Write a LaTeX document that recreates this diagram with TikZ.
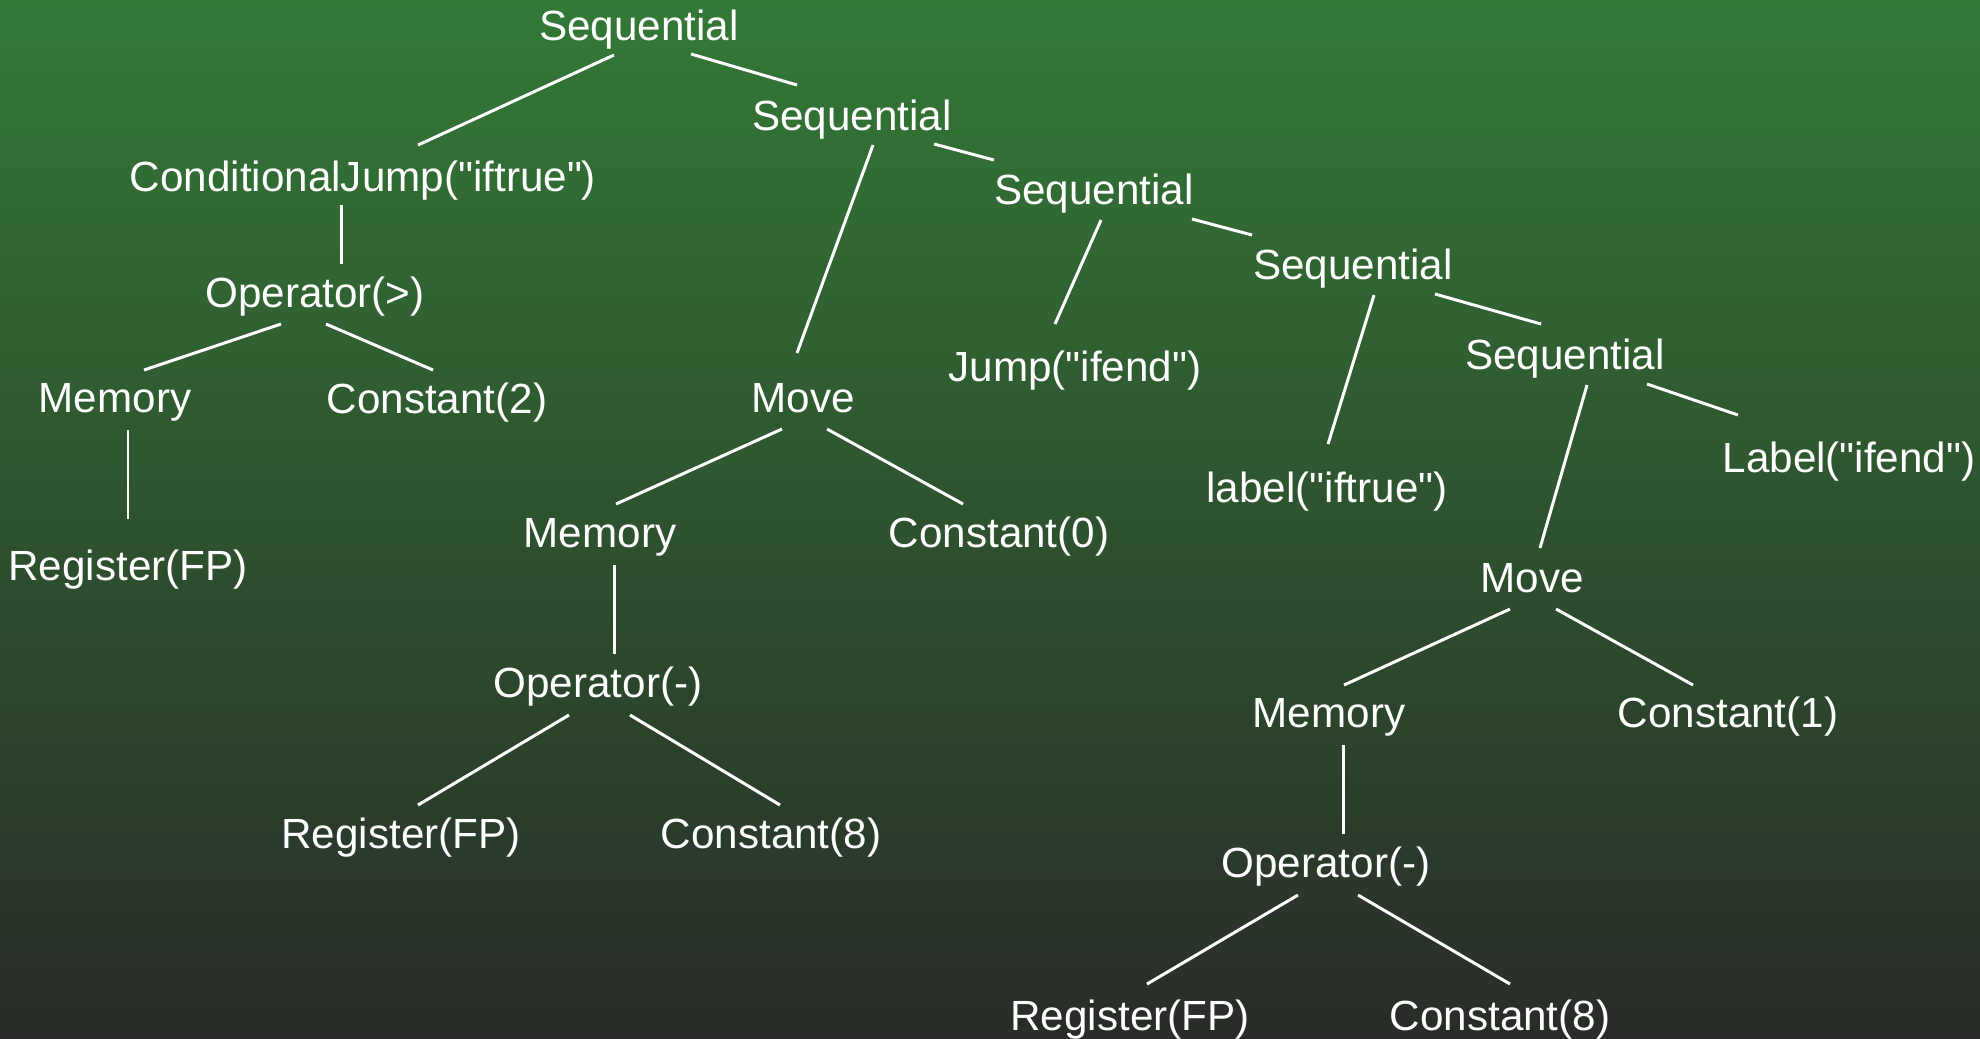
\documentclass[tikz,border=0pt]{standalone}
\usepackage{fontspec}
\setmainfont{Liberation Sans}
\usetikzlibrary{calc}
\definecolor{bgtop}{RGB}{51,121,54}
\definecolor{bgbot}{RGB}{41,44,40}
\newcommand{\qmark}{\textquotedbl}
\tikzset{
  tnode/.style={anchor=base, inner sep=0pt, text=white, font=\fontsize{12}{14}\selectfont},
  edge/.style={draw=white, line width=0.85pt}
}
\begin{document}
\begin{tikzpicture}[x=0.01cm, y=-0.01cm]
\shade[top color=bgtop, bottom color=bgbot] (0,0) rectangle (1980,1038);
\useasboundingbox (0,0) rectangle (1980,1038);
% nodes
\node[tnode] (s1)   at (639,40)   {Sequential};
\node[tnode] (s2)   at (852,130)  {Sequential};
\node[tnode] (cj)   at (363,191)  {ConditionalJump(\qmark iftrue\qmark)};
\node[tnode] (s3)   at (1094,204) {Sequential};
\node[tnode] (s4)   at (1353,279) {Sequential};
\node[tnode] (op1)  at (315,307)  {Operator(>)};
\node[tnode] (s5)   at (1565,369) {Sequential};
\node[tnode] (jmp)  at (1075,381) {Jump(\qmark ifend\qmark)};
\node[tnode] (mem1) at (115,412)  {Memory};
\node[tnode] (c2)   at (437,413)  {Constant(2)};
\node[tnode] (mv1)  at (803,412)  {Move};
\node[tnode] (lab)  at (1327,502) {label(\qmark iftrue\qmark)};
\node[tnode] (lif)  at (1849,472) {Label(\qmark ifend\qmark)};
\node[tnode] (reg1) at (128,580)  {Register(FP)};
\node[tnode] (mem2) at (600,547)  {Memory};
\node[tnode] (c0)   at (999,547)  {Constant(0)};
\node[tnode] (mv2)  at (1532,592) {Move};
\node[tnode] (op2)  at (598,697)  {Operator(-)};
\node[tnode] (mem3) at (1329,727) {Memory};
\node[tnode] (c1)   at (1728,727) {Constant(1)};
\node[tnode] (reg2) at (401,848)  {Register(FP)};
\node[tnode] (c8a)  at (771,848)  {Constant(8)};
\node[tnode] (op3)  at (1326,877) {Operator(-)};
\node[tnode] (reg3) at (1130,1030) {Register(FP)};
\node[tnode] (c8b)  at (1500,1030) {Constant(8)};
% edges
\draw[edge] ($(s1.base)+(-25,15)$) -- ($(cj.base)+(55,-46)$);
\draw[edge] ($(s1.base)+(52,14)$) -- ($(s2.base)+(-55,-45)$);
\draw[edge] ($(cj.base)+(-22,14)$) -- ($(op1.base)+(26,-43)$);
\draw[edge] ($(s2.base)+(21,15)$) -- ($(mv1.base)+(-6,-59)$);
\draw[edge] ($(s2.base)+(82,14)$) -- ($(s3.base)+(-100,-44)$);
\draw[edge] ($(op1.base)+(-34,17)$) -- ($(mem1.base)+(29,-42)$);
\draw[edge] ($(op1.base)+(11,17)$) -- ($(c2.base)+(-4,-43)$);
\draw[edge] ($(s3.base)+(7,16)$) -- ($(jmp.base)+(-20,-57)$);
\draw[edge] ($(s3.base)+(98,15)$) -- ($(s4.base)+(-101,-44)$);
\draw[edge] ($(mem1.base)+(13,18)$) -- ($(reg1.base)+(0,-61)$);
\draw[edge] ($(mv1.base)+(-21,17)$) -- ($(mem2.base)+(16,-43)$);
\draw[edge] ($(mv1.base)+(24,17)$) -- ($(c0.base)+(-36,-43)$);
\draw[edge] ($(s4.base)+(21,16)$) -- ($(lab.base)+(1,-58)$);
\draw[edge] ($(s4.base)+(82,15)$) -- ($(s5.base)+(-24,-45)$);
\draw[edge] ($(s5.base)+(22,16)$) -- ($(mv2.base)+(8,-44)$);
\draw[edge] ($(s5.base)+(82,15)$) -- ($(lif.base)+(-111,-57)$);
\draw[edge] ($(mem2.base)+(14,18)$) -- ($(op2.base)+(16,-43)$);
\draw[edge] ($(mv2.base)+(-22,17)$) -- ($(mem3.base)+(15,-42)$);
\draw[edge] ($(mv2.base)+(24,17)$) -- ($(c1.base)+(-35,-42)$);
\draw[edge] ($(op2.base)+(-29,18)$) -- ($(reg2.base)+(17,-43)$);
\draw[edge] ($(op2.base)+(32,18)$) -- ($(c8a.base)+(9,-43)$);
\draw[edge] ($(mem3.base)+(14,18)$) -- ($(op3.base)+(17,-43)$);
\draw[edge] ($(op3.base)+(-28,18)$) -- ($(reg3.base)+(17,-46)$);
\draw[edge] ($(op3.base)+(32,18)$) -- ($(c8b.base)+(10,-46)$);
\end{tikzpicture}
\end{document}
